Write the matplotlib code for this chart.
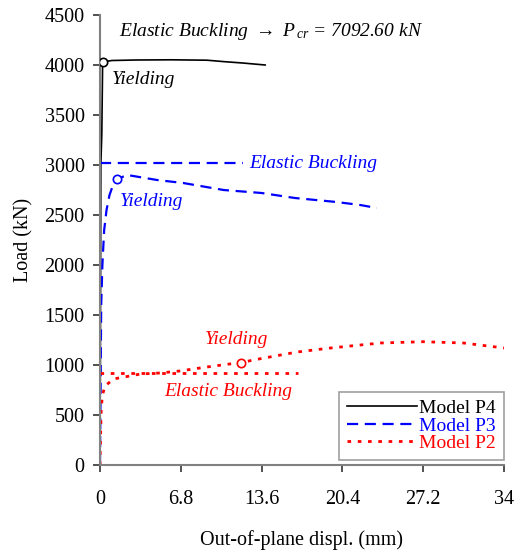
import matplotlib
matplotlib.use("Agg")
import matplotlib.pyplot as plt

plt.rcParams["font.family"] = ["Liberation Serif", "DejaVu Serif"]
plt.rcParams["mathtext.fontset"] = "custom"
plt.rcParams["mathtext.rm"] = "Liberation Serif"
plt.rcParams["mathtext.it"] = "Liberation Serif:italic"

# Load vs out-of-plane displacement curves
p4_x = [0.0, 0.03, 0.05, 0.07, 0.15, 0.20, 0.22, 1.0, 3.0, 6.0, 9.0, 10.5, 12.0, 13.9]
p4_y = [0, 1000, 2000, 3000, 3300, 3800, 4030, 4045, 4050, 4052, 4048, 4033, 4020, 4000]

p3_x = [0.0, 0.05, 0.10, 0.20, 0.35, 0.55, 0.80, 1.10, 1.43, 2.3, 4.8, 7.0, 10.4, 13.6, 16.4, 19.9, 21.9, 23.3]
p3_y = [0, 800, 1600, 2000, 2350, 2550, 2700, 2800, 2860, 2900, 2850, 2820, 2750, 2720, 2670, 2630, 2600, 2570]

p2_x = [0.0, 0.05, 0.10, 0.20, 0.43, 1.12, 2.5, 3.4, 5.05, 6.7, 9.0, 10.9, 11.9, 12.9, 16.6, 19.4, 23.6, 27.2, 30.6, 34.0]
p2_y = [0, 300, 550, 700, 790, 860, 890, 910, 920, 940, 980, 1010, 1023, 1050, 1130, 1170, 1220, 1233, 1220, 1170]

# Yield points
yield_x = [0.22, 1.43, 11.9]
yield_y = [4030, 2860, 1023]

# Elastic buckling loads (kN)
p3_cr = 3020
p3_cr_end = 12.0
p2_cr = 917
p2_cr_end = 16.7
p4_cr_text = "7092.60"

x_ticks = [0, 6.8, 13.6, 20.4, 27.2, 34]
x_tick_labels = ["0", "6.8", "13.6", "20.4", "27.2", "34"]
y_ticks = list(range(0, 4501, 500))

fig = plt.figure(figsize=(5.18, 5.52), dpi=100)
ax = fig.add_axes([100 / 518, 1 - 465 / 552, 404 / 518, 450 / 552])

black, blue, red = "#000000", "#0000FF", "#FF0000"

ax.plot(p4_x, p4_y, color=black, lw=1.2, ls="-", label="Model P4")
ax.plot(p3_x, p3_y, color=blue, lw=1.6, ls=(0, (5, 3)), label="Model P3")
ax.plot(p2_x, p2_y, color=red, lw=2.0, ls=(0, (1.3, 2.4)), label="Model P2")

ax.plot([0, p3_cr_end], [p3_cr, p3_cr], color=blue, lw=1.6, ls=(0, (5, 3)))
ax.plot([0, p2_cr_end], [p2_cr, p2_cr], color=red, lw=2.0, ls=(0, (1.3, 2.4)))

for xv, yv, c in zip(yield_x, yield_y, [black, blue, red]):
    ax.plot([xv], [yv], marker="o", ms=6, mfc="white", mec=c, mew=1.2, zorder=5)

tkw = dict(style="italic", fontsize=14, va="center", ha="left")
ax.text(1.6, 4330, "Elastic Buckling $\\rightarrow$ $P_{\\,cr}$ = " + p4_cr_text + " kN",
        color=black, **tkw)
ax.text(1.0, 3850, "Yielding", color=black, **tkw)
ax.text(12.6, 3020, "Elastic Buckling", color=blue, **tkw)
ax.text(1.7, 2630, "Yielding", color=blue, **tkw)
ax.text(8.8, 1250, "Yielding", color=red, **tkw)
ax.text(5.4, 740, "Elastic Buckling", color=red, **tkw)

ax.set_xlim(0, 34)
ax.set_ylim(0, 4500)
ax.set_xticks(x_ticks)
ax.set_xticklabels(x_tick_labels)
ax.set_yticks(y_ticks)
ax.tick_params(axis="both", direction="out", length=5, width=1.2, colors="#333333",
               labelsize=14.5, labelcolor="black")
ax.tick_params(axis="x", pad=13)
ax.tick_params(axis="y", pad=6)

for s in ["top", "right"]:
    ax.spines[s].set_visible(False)
for s in ["left", "bottom"]:
    ax.spines[s].set_color("#808080")
    ax.spines[s].set_linewidth(1.5)

ax.set_xlabel("Out-of-plane displ. (mm)", fontsize=14.5, labelpad=15)
ax.set_ylabel("Load (kN)", fontsize=14.5, labelpad=8)

leg = ax.legend(loc="lower right", bbox_to_anchor=(1.0, 0.011), fontsize=14,
                frameon=True, fancybox=False, edgecolor="#A0A0A0", framealpha=1,
                handlelength=3.6, labelspacing=0.0, borderpad=0.4, handletextpad=0.15,
                borderaxespad=0)
leg.get_frame().set_linewidth(1.2)
for txt, c in zip(leg.get_texts(), [black, blue, red]):
    txt.set_color(c)

fig.savefig("out.png", dpi=100)
